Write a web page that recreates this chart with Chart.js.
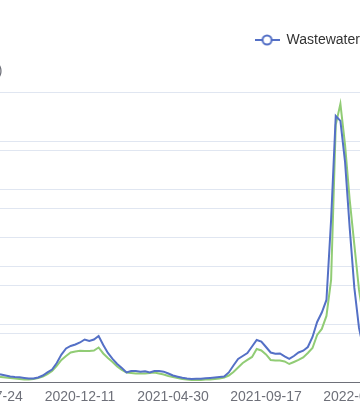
<!DOCTYPE html>
<html>
<head>
<meta charset="utf-8">
<title>Wastewater vs reported cases</title>
<script src="https://cdn.jsdelivr.net/npm/chart.js@4.4.1/dist/chart.umd.min.js"></script>
<style>
  html, body { margin: 0; padding: 0; background: #fff; }
  body { width: 360px; height: 410px; overflow: hidden; position: relative; }
  /* the chart is wider than the window, so it is cut on both sides */
  .chart-wrap { position: absolute; left: -60px; top: 0; width: 570px; height: 410px; }
</style>
</head>
<body>
<div class="chart-wrap"><canvas id="ww-chart"></canvas></div>
<script>
const weeks = [
    '2020-07-24', '2020-07-31', '2020-08-07', '2020-08-14', '2020-08-21', '2020-08-28', '2020-09-04', '2020-09-11',
    '2020-09-18', '2020-09-25', '2020-10-02', '2020-10-09', '2020-10-16', '2020-10-23', '2020-10-30', '2020-11-06',
    '2020-11-13', '2020-11-20', '2020-11-27', '2020-12-04', '2020-12-11', '2020-12-18', '2020-12-25', '2021-01-01',
    '2021-01-08', '2021-01-15', '2021-01-22', '2021-01-29', '2021-02-05', '2021-02-12', '2021-02-19', '2021-02-26',
    '2021-03-05', '2021-03-12', '2021-03-19', '2021-03-26', '2021-04-02', '2021-04-09', '2021-04-16', '2021-04-23',
    '2021-04-30', '2021-05-07', '2021-05-14', '2021-05-21', '2021-05-28', '2021-06-04', '2021-06-11', '2021-06-18',
    '2021-06-25', '2021-07-02', '2021-07-09', '2021-07-16', '2021-07-23', '2021-07-30', '2021-08-06', '2021-08-13',
    '2021-08-20', '2021-08-27', '2021-09-03', '2021-09-10', '2021-09-17', '2021-09-24', '2021-10-01', '2021-10-08',
    '2021-10-15', '2021-10-22', '2021-10-29', '2021-11-05', '2021-11-12', '2021-11-19', '2021-11-26', '2021-12-03',
    '2021-12-10', '2021-12-17', '2021-12-24', '2021-12-31', '2022-01-07', '2022-01-14', '2022-01-21', '2022-01-28',
    '2022-02-04', '2022-02-11', '2022-02-18'
];

const wastewater = [
    8.8, 8.3, 8.3, 7.8, 6.7, 5.7, 5.2, 4.9, 4.2, 3.6, 3.6, 4.7, 6.7, 9.9, 13.0, 19.7, 28.5, 34.8, 37.4, 38.9,
    41.0, 44.1, 42.6, 44.1, 47.7, 38.4, 30.1, 23.9, 18.7, 14.5, 9.9, 11.4, 11.4, 10.7, 11.1, 9.9, 11.4, 11.4, 10.7, 8.8,
    6.7, 5.5, 4.4, 3.6, 3.1, 3.3, 3.5, 3.8, 4.2, 4.7, 5.2, 5.7, 9.9, 17.1, 23.9, 27.0, 30.1, 36.8, 43.6, 42.0,
    36.3, 30.6, 29.3, 29.6, 26.5, 23.9, 27.0, 30.6, 32.5, 36.3, 46.7, 62.3, 72.1, 85.1, 168.2, 276.1, 270.9, 228.4, 159.9, 97.6,
    56.1, 33.2, 20.8
];

const reportedCases = [
    11.2, 10.4, 9.5, 8.7, 7.8, 6.9, 6.1, 5.2, 4.3, 4.3, 5.2, 6.9, 9.5, 13.8, 19.0, 27.7, 38.1, 45.0, 51.0, 52.8,
    54.1, 53.6, 53.6, 54.5, 59.7, 49.3, 41.5, 34.6, 26.8, 20.8, 16.4, 15.6, 14.7, 14.7, 14.7, 15.6, 16.4, 14.7, 13.0, 10.4,
    8.7, 6.9, 5.2, 4.3, 3.5, 3.5, 3.5, 4.3, 4.3, 5.2, 6.1, 7.8, 11.2, 17.3, 25.1, 32.9, 38.1, 43.3, 57.1, 54.5,
    47.6, 38.1, 37.2, 37.2, 35.5, 31.1, 34.6, 38.1, 42.4, 50.2, 58.8, 81.3, 91.7, 114.2, 176.5, 444.6, 480.9, 410.0, 314.9, 237.0,
    159.2, 107.3, 72.7
];

// dates that carry a label on the x axis
const xTickLabels = ['2020-07-24', '2020-12-11', '2021-04-30', '2021-09-17', '2022-02-04'];

const leftAxisMax = 300;
const leftAxisStep = 50;
const rightAxisMax = 500;
const rightAxisStep = 100;

const BLUE = '#5470c6';
const GREEN = '#91cc75';
const AXIS_GREY = '#6E7079';
const GRID = '#E0E6F1';

Chart.defaults.font.family = "'Liberation Sans', Arial, sans-serif";
Chart.defaults.font.size = 14;

// legend marker: short line with a hollow circle on it
function legendIcon(color) {
    const c = document.createElement('canvas');
    c.width = 25;
    c.height = 14;
    const ctx = c.getContext('2d');
    ctx.strokeStyle = color;
    ctx.lineWidth = 2;
    ctx.beginPath();
    ctx.moveTo(0, 7);
    ctx.lineTo(25, 7);
    ctx.stroke();
    ctx.beginPath();
    ctx.arc(12.5, 7, 4.5, 0, 2 * Math.PI);
    ctx.fillStyle = '#fff';
    ctx.fill();
    ctx.stroke();
    return c;
}

const isLabelled = (i) => xTickLabels.includes(weeks[i]);

new Chart(document.getElementById('ww-chart'), {
    type: 'line',
    data: {
        labels: weeks,
        datasets: [{
            label: 'Wastewater',
            data: wastewater,
            yAxisID: 'y',
            borderColor: BLUE,
            backgroundColor: BLUE,
            borderWidth: 2,
            pointRadius: 0,
            pointStyle: legendIcon(BLUE),
            tension: 0
        }, {
            label: 'Reported cases',
            data: reportedCases,
            yAxisID: 'y1',
            borderColor: GREEN,
            backgroundColor: GREEN,
            borderWidth: 2,
            pointRadius: 0,
            pointStyle: legendIcon(GREEN),
            tension: 0
        }]
    },
    options: {
        responsive: true,
        maintainAspectRatio: false,
        animation: false,
        layout: {
            padding: { left: 1, right: 0, top: 23, bottom: 0 }
        },
        scales: {
            x: {
                type: 'category',
                afterFit: (scale) => { scale.height = 28; },
                border: { display: true, color: AXIS_GREY, width: 1 },
                grid: {
                    drawOnChartArea: false,
                    drawTicks: true,
                    tickLength: 5,
                    color: (ctx) => isLabelled(ctx.index) ? AXIS_GREY : 'transparent',
                    tickColor: (ctx) => isLabelled(ctx.index) ? AXIS_GREY : 'transparent'
                },
                ticks: {
                    autoSkip: false,
                    maxRotation: 0,
                    minRotation: 0,
                    padding: 2,
                    color: AXIS_GREY,
                    callback: function(value, index) {
                        return isLabelled(index) ? weeks[index] : null;
                    }
                }
            },
            y: {
                position: 'left',
                min: 0,
                max: leftAxisMax,
                afterFit: (scale) => { scale.width = 46; },
                border: { display: false },
                grid: { color: GRID, lineWidth: 1, drawTicks: false },
                ticks: { stepSize: leftAxisStep, color: AXIS_GREY, padding: 8 }
            },
            y1: {
                position: 'right',
                min: 0,
                max: rightAxisMax,
                afterFit: (scale) => { scale.width = 141.7; },
                border: { display: false },
                grid: { color: GRID, lineWidth: 1, drawTicks: false },
                ticks: { stepSize: rightAxisStep, color: AXIS_GREY, padding: 8 }
            }
        },
        plugins: {
            legend: {
                position: 'top',
                align: 'end',
                labels: {
                    usePointStyle: true,
                    pointStyleWidth: 25,
                    padding: 10,
                    color: '#333',
                    font: { size: 14 }
                }
            },
            // y axis name, sits above the left axis
            title: {
                display: true,
                text: '(copies/L)',
                align: 'start',
                position: 'top',
                weight: 500,
                color: AXIS_GREY,
                font: { size: 14, weight: 'normal' },
                padding: { top: 6, bottom: 13 }
            },
            tooltip: { enabled: false }
        }
    }
});
</script>
</body>
</html>
